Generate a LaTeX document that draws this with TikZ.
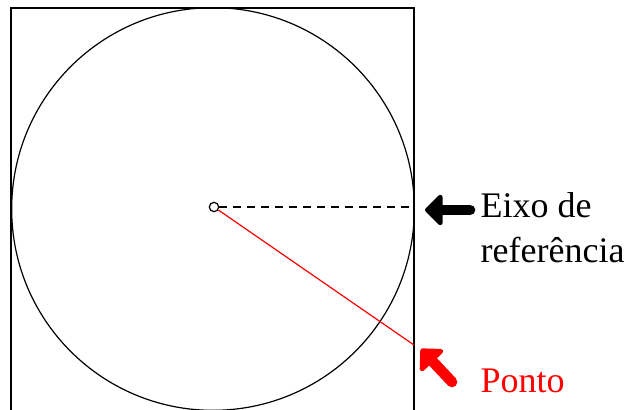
\documentclass[tikz,border=0pt]{standalone}
\usepackage{fontspec}
\setmainfont{Liberation Serif}
\usetikzlibrary{arrows.meta}
\begin{document}
\begin{tikzpicture}[x=0.75pt,y=-0.75pt,line width=0.9pt,
    font=\fontsize{27}{34}\selectfont,
    seta/.style={line width=8pt,line cap=round,
        -{Triangle[length=14pt,width=27pt,round]}}]
    \useasboundingbox (0,0) rectangle (628,410);
    \clip (0,0) rectangle (628,410);

    \draw (11,8) rectangle (414,411);
    \node[draw,circle,minimum size=302pt,inner sep=0pt] (disco) at (213,209) {};
    \node[draw,circle,minimum size=7pt,inner sep=0pt] (centro) at (214,207) {};

    \coordinate (borda) at (414,207);
    \coordinate (ponto) at (414,345);
    \draw[dashed,dash pattern=on 6pt off 4.5pt] (centro) -- (borda);
    \draw[red] (centro) -- (ponto);

    \coordinate (setaA) at (470,210);
    \coordinate (pontaA) at (425,210);
    \draw[seta] (setaA) -- (pontaA);
    \coordinate (setaB) at (452,382);
    \coordinate (pontaB) at (421,349);
    \draw[seta,red] (setaB) -- (pontaB);

    \node[anchor=base west,inner sep=0pt] (eixo) at (480,217) {Eixo de};
    \node[anchor=base west,inner sep=0pt] (refer) at (480,262) {referência};
    \node[anchor=base west,inner sep=0pt,red] (nome) at (480,392) {Ponto};
\end{tikzpicture}
\end{document}
